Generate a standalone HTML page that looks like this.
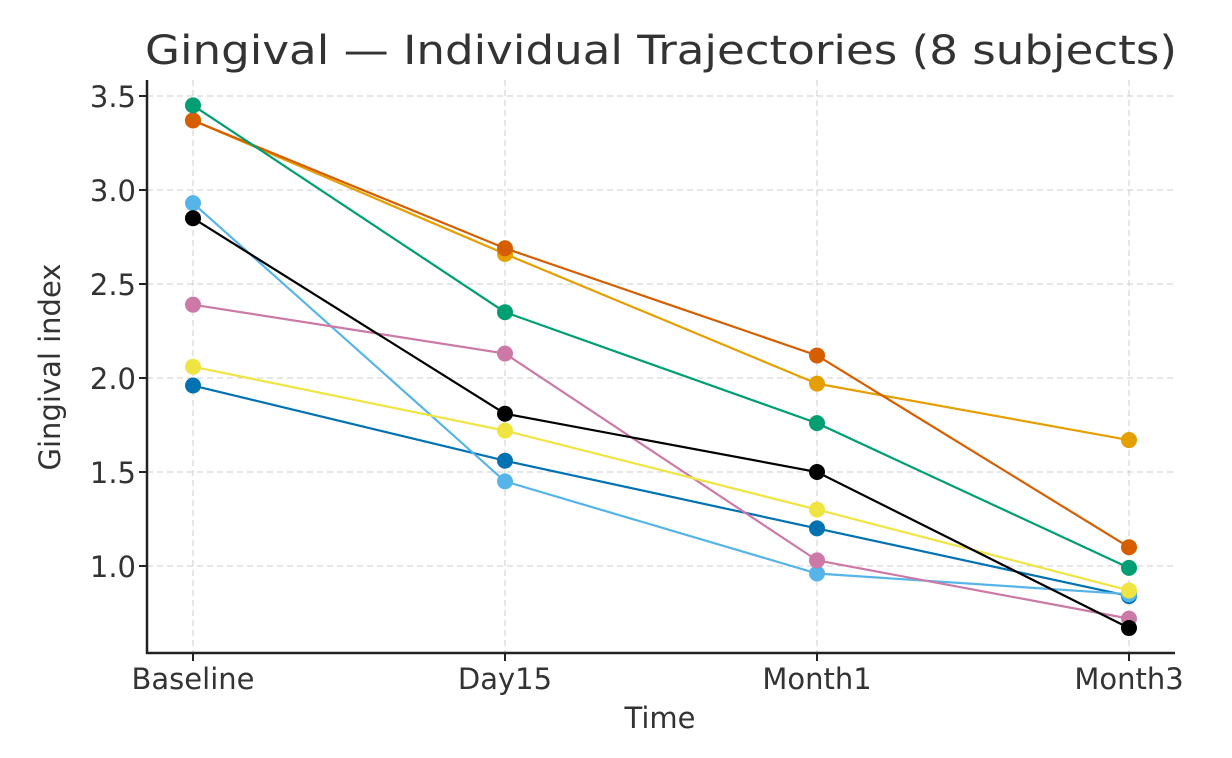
<!DOCTYPE html>
<html><head><meta charset="utf-8"><style>
html,body{margin:0;padding:0;background:#fff;}
svg{display:block;font-family:"DejaVu Sans","Liberation Sans",sans-serif;}
</style></head><body>
<svg id="chart" width="1232" height="758">
<text x="661" y="64" text-anchor="middle" font-size="40" fill="#333" textLength="1032" lengthAdjust="spacingAndGlyphs">Gingival — Individual Trajectories (8 subjects)</text>
<g id="grid"></g>
<g id="axes"></g>
<g id="series"></g>
<text x="660" y="728" text-anchor="middle" font-size="29" fill="#333">Time</text>
<text transform="translate(60,367) rotate(-90)" text-anchor="middle" font-size="29" fill="#333">Gingival index</text>
</svg>
<script>
const categories = ["Baseline","Day15","Month1","Month3"];
const yTicks = [1.0,1.5,2.0,2.5,3.0,3.5];
const seriesColors = ["#0072b2","#e69f00","#d55e00","#009e73","#56b4e9","#cc79a7","#f0e442","#000000"];
const s1 = [1.96,1.56,1.20,0.84];
const s2 = [3.37,2.66,1.97,1.67];
const s3 = [3.37,2.69,2.12,1.10];
const s4 = [3.45,2.35,1.76,0.99];
const s5 = [2.93,1.45,0.96,0.85];
const s6 = [2.39,2.13,1.03,0.72];
const s7 = [2.06,1.72,1.30,0.87];
const s8 = [2.85,1.81,1.50,0.67];
const seriesValues = [s1,s2,s3,s4,s5,s6,s7,s8];

const NS="http://www.w3.org/2000/svg";
const xL=147,xR=1175,yT=80,yB=653;
function xs(i){return 193+i*312;}
function ys(v){return 566-(v-1.0)*188;}
function mk(tag,attrs,parent){const e=document.createElementNS(NS,tag);for(const k in attrs)e.setAttribute(k,attrs[k]);parent.appendChild(e);return e;}
const grid=document.getElementById('grid'),axes=document.getElementById('axes'),ser=document.getElementById('series');
yTicks.forEach(t=>{
  const y=ys(t);
  const g=mk('line',{x1:xL,x2:xR,y1:y,y2:y,stroke:"#ccc","stroke-dasharray":"6,4","stroke-width":1},grid);
  
  
  const tk=mk('line',{x1:xL-8,x2:xL,y1:y,y2:y,stroke:"#222","stroke-width":2},axes);
  
  
  const tx=mk('text',{x:xL-11,y:y+11,"text-anchor":"end","font-size":29,fill:"#333"},axes);
  tx.textContent=t.toFixed(1);
  
  
});
categories.forEach((c,i)=>{
  const x=xs(i);
  const g=mk('line',{x1:x,x2:x,y1:yT,y2:yB,stroke:"#ccc","stroke-dasharray":"6,4","stroke-width":1},grid);
  
  
  const tk=mk('line',{x1:x,x2:x,y1:yB,y2:yB+8,stroke:"#222","stroke-width":2},axes);
  
  
  const tx=mk('text',{x:x,y:689,"text-anchor":"middle","font-size":29,fill:"#333"},axes);
  tx.textContent=c;
  
  
});
const sp1=mk('line',{x1:xL,x2:xL,y1:yT,y2:yB+1,stroke:"#222","stroke-width":2.5},axes);


const sp2=mk('line',{x1:xL-1,x2:xR,y1:yB,y2:yB,stroke:"#222","stroke-width":2.5},axes);


seriesValues.forEach((vals,si)=>{
  const col=seriesColors[si];
  const pts=vals.map((v,i)=>xs(i)+","+ys(v)).join(" ");
  const pl=mk('polyline',{points:pts,fill:"none",stroke:col,"stroke-width":2.2},ser);
  
  
  vals.forEach((v,i)=>{
    const c=mk('circle',{cx:xs(i),cy:ys(v),r:8,fill:col},ser);
    
    
  });
});
</script>
</body></html>
